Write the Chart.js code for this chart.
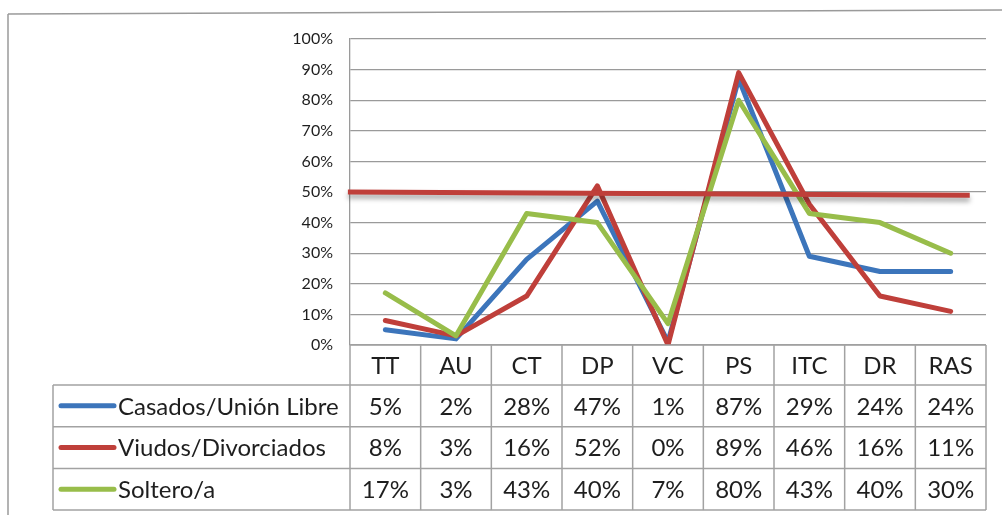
<!DOCTYPE html>
<html lang="es">
<head>
<meta charset="utf-8">
<title>Estado civil por dimensión</title>
<script src="https://cdn.jsdelivr.net/npm/chart.js@4/dist/chart.umd.min.js"></script>
<style>
  html, body { margin:0; padding:0; background:#fff; }
  #wrap { width:1002px; height:515px; }
</style>
</head>
<body>
<div id="wrap"><canvas id="grafico" width="1002" height="515"></canvas></div>
<script>
// --- Datos ---
const categorias = ['TT','AU','CT','DP','VC','PS','ITC','DR','RAS'];
const casados  = [5, 2, 28, 47, 1, 87, 29, 24, 24];
const viudos   = [8, 3, 16, 52, 0, 89, 46, 16, 11];
const solteros = [17, 3, 43, 40, 7, 80, 43, 40, 30];
const nombres  = ['Casados/Unión Libre', 'Viudos/Divorciados', 'Soltero/a'];
const etiquetasY = ['0%','10%','20%','30%','40%','50%','60%','70%','80%','90%','100%'];
// línea de referencia roja: [índice de categoría, %]
const refInicio = [-0.53, 50];
const refFin    = [8.27, 48.9];

const COLORES = ['#3C75BB', '#BF3F3A', '#98BD4A'];
const GRIS = '#9a9a9a';
const TEXTO = '#1e1e1e';
const FUENTE = 'Lato, "Liberation Sans", sans-serif';

Chart.defaults.font.family = FUENTE;
Chart.defaults.color = TEXTO;

// --- Helpers ---
function linea(ctx, x1, y1, x2, y2){ ctx.beginPath(); ctx.moveTo(x1, y1); ctx.lineTo(x2, y2); ctx.stroke(); }

// marco exterior del gráfico
const marco = {
  id: 'marco',
  beforeDraw(chart){
    const ctx = chart.ctx;
    ctx.save();
    ctx.strokeStyle = GRIS; ctx.lineWidth = 1.5;
    linea(ctx, 8, 14, 8, chart.height);
    linea(ctx, 8, 14, chart.width, 10);
    ctx.restore();
  }
};

// línea horizontal del 50% con sombra
const referencia = {
  id: 'referencia',
  afterDatasetsDraw(chart){
    const { ctx, scales: { x, y } } = chart;
    ctx.save();
    ctx.strokeStyle = COLORES[1];
    ctx.lineWidth = 5;
    ctx.lineCap = 'butt';
    ctx.shadowColor = 'rgba(0,0,0,0.35)';
    ctx.shadowBlur = 5;
    ctx.shadowOffsetY = 4;
    linea(ctx, x.getPixelForValue(refInicio[0]), y.getPixelForValue(refInicio[1]),
               x.getPixelForValue(refFin[0]), y.getPixelForValue(refFin[1]));
    ctx.restore();
  }
};

// tabla de datos bajo el eje X
const tabla = {
  id: 'tabla',
  afterDraw(chart){
    const { ctx, chartArea, scales: { x } } = chart;
    const valores = [casados, viudos, solteros];
    const ALTO_CAB = 40, ALTO_FILA = 41.7, IZQ = 53;
    const top = chartArea.bottom;
    const filaTop = top + ALTO_CAB;
    const abajo = filaTop + ALTO_FILA * 3;
    const der = x.getPixelForValue(categorias.length - 0.5);

    ctx.save();
    ctx.strokeStyle = '#a2a2a2'; ctx.lineWidth = 1.5;
    linea(ctx, chartArea.left, top, der, top);
    for (let r = 0; r <= 3; r++){ const yy = filaTop + ALTO_FILA * r; linea(ctx, IZQ, yy, der, yy); }
    for (let i = 0; i <= categorias.length; i++){ const xx = x.getPixelForValue(i - 0.5); linea(ctx, xx, top, xx, abajo); }
    linea(ctx, IZQ, filaTop, IZQ, abajo);

    ctx.fillStyle = TEXTO;
    ctx.font = '24px ' + FUENTE;
    ctx.textAlign = 'center'; ctx.textBaseline = 'middle';
    categorias.forEach((c, i) => ctx.fillText(c, x.getPixelForValue(i), top + ALTO_CAB / 2 + 1));

    valores.forEach((serie, r) => {
      const yc = filaTop + ALTO_FILA * (r + 0.5) + 1;
      ctx.textAlign = 'center';
      serie.forEach((v, i) => ctx.fillText(v + '%', x.getPixelForValue(i), yc));
      // clave de la leyenda
      ctx.strokeStyle = COLORES[r]; ctx.lineWidth = 5; ctx.lineCap = 'round';
      linea(ctx, 61, yc - 1, 114, yc - 1);
      ctx.textAlign = 'left';
      ctx.fillText(nombres[r], 118, yc);
    });
    ctx.restore();
  }
};

function serie(label, data, idx, orden){
  return {
    label, data, order: orden,
    borderColor: COLORES[idx], backgroundColor: COLORES[idx],
    borderWidth: 5, pointRadius: 0, tension: 0,
    borderJoinStyle: 'round', borderCapStyle: 'round'
  };
}

new Chart(document.getElementById('grafico'), {
  type: 'line',
  data: {
    labels: categorias,
    datasets: [
      serie(nombres[0], casados, 0, 2),
      serie(nombres[1], viudos, 1, 1),
      serie(nombres[2], solteros, 2, 0)
    ]
  },
  options: {
    responsive: false,
    animation: false,
    devicePixelRatio: 1,
    layout: { padding: { left: 0, right: 16, top: 39, bottom: 170 } },
    plugins: { legend: { display: false }, tooltip: { enabled: false } },
    scales: {
      x: { display: false, offset: true },
      y: {
        min: 0, max: 100,
        afterFit(scale){ scale.width = 350; },
        ticks: {
          stepSize: 10, padding: 17,
          font: { size: 16 }, color: TEXTO,
          callback: (v) => etiquetasY[Math.round(v / 10)]
        },
        grid: { color: GRIS, lineWidth: 1.3, drawTicks: false },
        border: { color: GRIS, width: 1.3 }
      }
    }
  },
  plugins: [marco, referencia, tabla]
});
</script>
</body>
</html>
